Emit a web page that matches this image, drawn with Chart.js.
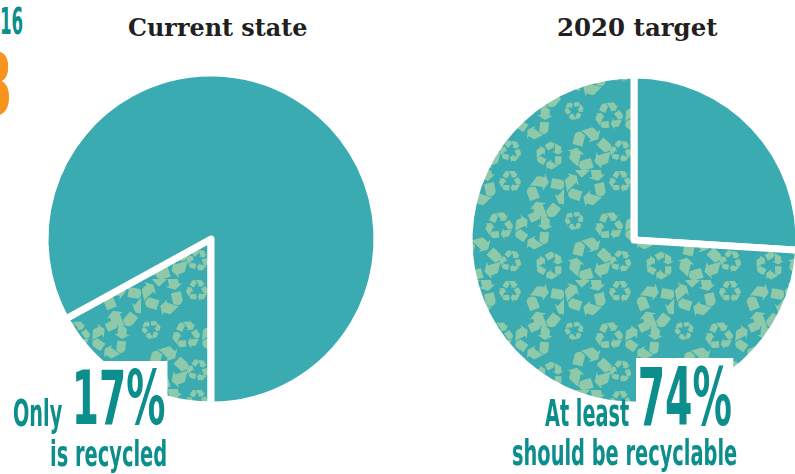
<!DOCTYPE html>
<html>
<head>
<meta charset="utf-8">
<script src="https://cdn.jsdelivr.net/npm/chart.js@4/dist/chart.umd.min.js"></script>
<style>
  html, body { margin:0; padding:0; background:#fff; }
  body { width:795px; height:474px; overflow:hidden; position:relative; }
  canvas { position:absolute; }
  .t { position:absolute; white-space:nowrap; font-family:"DejaVu Serif",serif; font-weight:bold; color:#231f20; font-size:24px; line-height:1; transform-origin:left top; }
  .lab { position:absolute; white-space:nowrap; font-family:"DejaVu Sans Condensed","DejaVu Sans",sans-serif; font-weight:bold; color:#0b8e8c; line-height:1; transform-origin:left top; }
  .bg { background:#fff; padding:0 3px; margin-left:-3px; }
</style>
</head>
<body>
<div class="lab" data-w="23" style="left:0px;top:3px;font-size:37px;">16</div>
<div class="lab" data-w="34" style="left:-21px;top:42px;font-size:86px;color:#f7941d;">3</div>

<div class="t" id="title0" data-w="180" style="left:128px;top:16px;"></div>
<div class="t" id="title1" data-w="161" style="left:557px;top:16px;"></div>

<canvas id="c0" width="360" height="360" style="left:31px;top:59px;"></canvas>
<canvas id="c1" width="360" height="360" style="left:454px;top:60px;"></canvas>

<div class="lab bg" id="big0" data-w="94" style="left:73px;top:361px;font-size:75px;"></div>
<div class="lab" data-w="49" style="left:13px;top:394px;font-size:38px;">Only</div>
<div class="lab" data-w="117" style="left:50px;top:436px;font-size:36px;">is recycled</div>

<div class="lab bg" id="big1" data-w="94" style="left:639px;top:358px;font-size:80px;"></div>
<div class="lab" data-w="84" style="left:545px;top:394px;font-size:38px;">At least</div>
<div class="lab" data-w="225" style="left:512px;top:435px;font-size:36px;">should be recyclable</div>

<script>
const pieTitles = ['Current state', '2020 target'];
const currentLabels = ['Recycled', 'Not recycled'];
const currentValues = [17, 83];
const targetLabels = ['Not recyclable', 'Recyclable'];
const targetValues = [26, 74];

const TEAL = '#3aabb1';
const GLYPH = '#8ecaa9';

function makePattern(){
  const c = document.createElement('canvas');
  c.width = 110; c.height = 110;
  const g = c.getContext('2d');
  g.fillStyle = TEAL; g.fillRect(0,0,110,110);
  g.fillStyle = GLYPH; g.textAlign = 'center'; g.textBaseline = 'middle';
  const marks = [
    [20,20,58,0.3],[56,14,30,0],[88,28,60,1.2],[42,54,38,2.0],
    [76,64,52,0.6],[20,88,60,1.8],[56,94,30,0.2],[94,92,38,2.6],[8,52,26,0.9]
  ];
  for (const [x,y,s,r] of marks){
    g.save(); g.translate(x,y); g.rotate(r);
    g.font = s + 'px "DejaVu Sans"';
    g.fillText('\u267B',0,0);
    g.restore();
  }
  return g.createPattern(c,'repeat');
}
const pattern = makePattern();

document.getElementById('title0').textContent = pieTitles[0];
document.getElementById('title1').textContent = pieTitles[1];
document.getElementById('big0').textContent = currentValues[0] + '%';
document.getElementById('big1').textContent = targetValues[1] + '%';

document.querySelectorAll('[data-w]').forEach(el => {
  const pad = el.classList.contains('bg') ? 6 : 0;
  const natural = el.offsetWidth - pad;
  const target = parseFloat(el.dataset.w);
  el.style.transform = 'scaleX(' + (target / natural) + ')';
});

function pie(id, labels, values, colors, rotation, radius){
  return new Chart(document.getElementById(id), {
    type: 'pie',
    data: { labels: labels, datasets: [{
      data: values,
      backgroundColor: colors,
      borderColor: '#ffffff',
      borderWidth: 7,
      borderJoinStyle: 'round',
      radius: radius
    }]},
    options: {
      responsive: false,
      animation: false,
      rotation: rotation,
      layout: { padding: 0 },
      plugins: { legend: { display:false }, tooltip: { enabled:false } }
    }
  });
}
pie('c0', currentLabels, currentValues, [pattern, TEAL], 180, 166);
pie('c1', targetLabels, targetValues, [TEAL, pattern], 0, 165);
</script>
</body>
</html>
